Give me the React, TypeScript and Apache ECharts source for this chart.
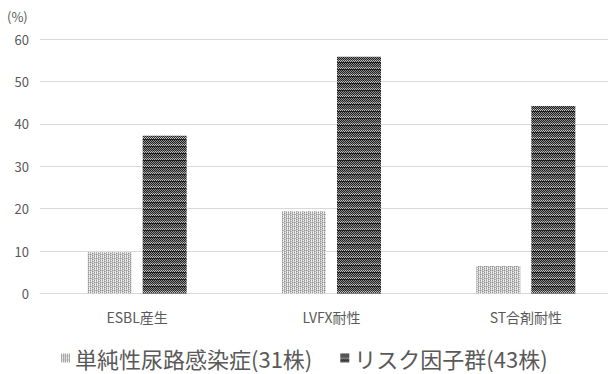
import React, { useEffect, useRef } from "react";
import * as echarts from "echarts";

const categories = ["ESBL産生", "LVFX耐性", "ST合剤耐性"];
const seriesNames = ["単純性尿路感染症(31株)", "リスク因子群(43株)"];
const simpleUti = [9.7, 19.4, 6.5];
const riskGroup = [37.2, 55.8, 44.2];
const yTicks = { min: 0, max: 60, interval: 10 };

const FONT = '"Noto Sans CJK JP", "Noto Sans", sans-serif';
const TEXT = "#595959";
const GRID = "#d9d9d9";

// Small pixel tile used as a repeating fill pattern.
function makeTile(rows: string[][]): HTMLCanvasElement {
  const c = document.createElement("canvas");
  c.height = rows.length;
  c.width = rows[0].length;
  const ctx = c.getContext("2d")!;
  rows.forEach((row, y) =>
    row.forEach((col, x) => {
      ctx.fillStyle = col;
      ctx.fillRect(x, y, 1, 1);
    })
  );
  return c;
}

function lightTile() {
  const a = "#939393";
  const b = "#efefef";
  const c = "#bdbdbd";
  return makeTile([
    [a, b, c, b, a, b],
    [c, b, a, c, c, b],
    [a, c, c, b, a, c],
    [c, b, a, c, c, b],
  ]);
}

function darkTile() {
  const k = "#1e1e1e";
  const g = "#8f8f8f";
  const l = "#c4c4c4";
  const d = "#333333";
  return makeTile([
    [k, g],
    [g, k],
    [k, g],
    [g, k],
    [d, l],
    [l, d],
    [k, k],
  ]);
}

export default function App() {
  const ref = useRef<HTMLDivElement>(null);

  useEffect(() => {
    if (!ref.current) return;
    const chart = echarts.init(ref.current, undefined, { renderer: "svg" });
    const lightFill = { image: lightTile(), repeat: "repeat" };
    const darkFill = { image: darkTile(), repeat: "repeat" };

    chart.setOption({
      animation: false,
      textStyle: { fontFamily: FONT },
      // the plot area runs past the visible right edge
      grid: { left: 40, top: 39, right: 0, height: 254.5, containLabel: false },
      graphic: [
        {
          type: "text",
          left: 7,
          top: 10,
          style: { text: "(%)", fontSize: 13, fill: TEXT, fontFamily: FONT },
        },
      ],
      legend: {
        top: 347,
        left: 61,
        padding: 0,
        itemWidth: 9,
        itemHeight: 9,
        itemGap: 28,
        icon: "rect",
        textStyle: { fontSize: 22, color: TEXT, fontFamily: FONT },
        data: seriesNames,
      },
      xAxis: {
        type: "category",
        data: categories,
        axisTick: { show: false },
        axisLine: { lineStyle: { color: GRID, width: 1 } },
        axisLabel: { fontSize: 14, color: TEXT, margin: 16, fontFamily: FONT },
      },
      yAxis: {
        type: "value",
        min: yTicks.min,
        max: yTicks.max,
        interval: yTicks.interval,
        axisLine: { show: false },
        axisTick: { show: false },
        splitLine: { lineStyle: { color: GRID, width: 1 } },
        axisLabel: { fontSize: 13, color: TEXT, margin: 11, fontFamily: FONT },
      },
      series: [
        {
          name: seriesNames[0],
          type: "bar",
          data: simpleUti,
          barWidth: 44,
          barGap: "25%",
          itemStyle: { color: lightFill },
        },
        {
          name: seriesNames[1],
          type: "bar",
          data: riskGroup,
          barWidth: 44,
          barGap: "25%",
          itemStyle: { color: darkFill },
        },
      ],
    });

    return () => chart.dispose();
  }, []);

  return (
    <div
      style={{
        position: "absolute",
        left: 0,
        top: 0,
        width: 608,
        height: 374,
        overflow: "hidden",
        background: "#fff",
      }}
    >
      <div ref={ref} style={{ width: 623, height: 374 }} />
    </div>
  );
}
